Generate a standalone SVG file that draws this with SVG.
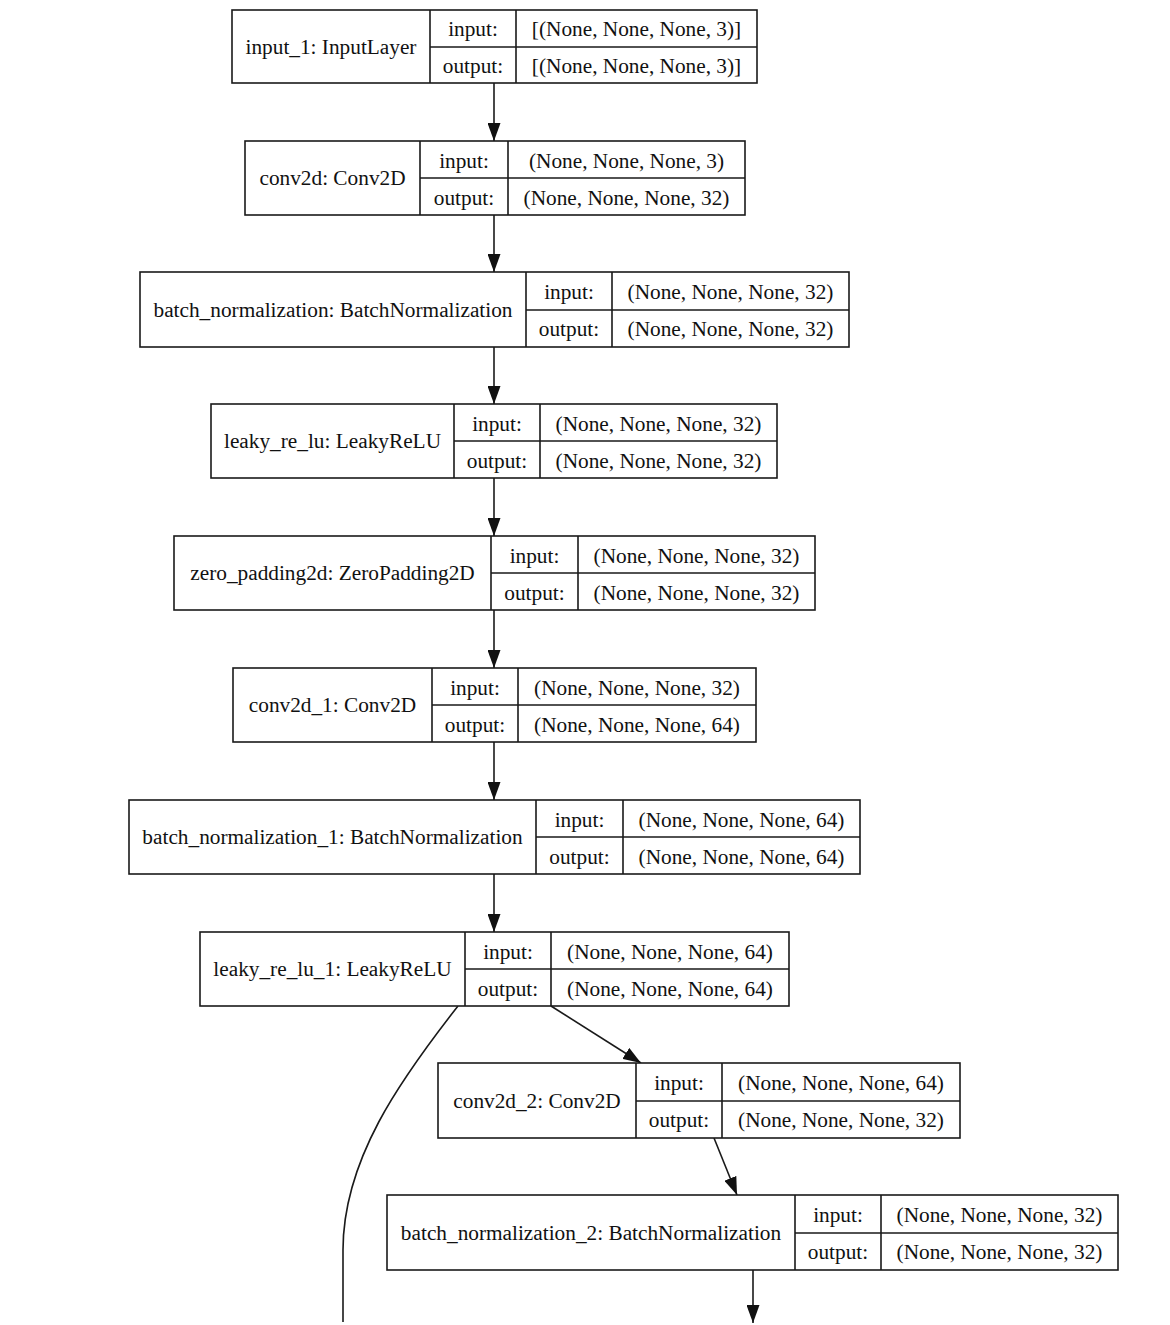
<svg xmlns="http://www.w3.org/2000/svg" width="1170" height="1325" viewBox="0 0 1170 1325">
<defs>
<style>
.box{fill:#fff;stroke:#1a1a1a;stroke-width:1.6}
.ln{stroke:#1a1a1a;stroke-width:1.6;fill:none}
text{font-family:"Liberation Serif","Times New Roman",serif;font-size:21.3px;fill:#111;text-anchor:middle}
</style>
<marker id="ah" viewBox="0 0 18 13" refX="18" refY="6.5" markerWidth="18" markerHeight="13" markerUnits="userSpaceOnUse" orient="auto">
<path d="M0,0 L18,6.5 L0,13 Z" fill="#111"/>
</marker>
</defs>
<rect width="1170" height="1325" fill="#fff"/>

<g id="connectors">
<line class="ln" x1="494" y1="83" x2="494" y2="141" marker-end="url(#ah)"/>
<line class="ln" x1="494" y1="215" x2="494" y2="272" marker-end="url(#ah)"/>
<line class="ln" x1="494" y1="347" x2="494" y2="404" marker-end="url(#ah)"/>
<line class="ln" x1="494" y1="478" x2="494" y2="536" marker-end="url(#ah)"/>
<line class="ln" x1="494" y1="610" x2="494" y2="668" marker-end="url(#ah)"/>
<line class="ln" x1="494" y1="742" x2="494" y2="800" marker-end="url(#ah)"/>
<line class="ln" x1="494" y1="874" x2="494" y2="932" marker-end="url(#ah)"/>
<line class="ln" x1="551" y1="1006" x2="641" y2="1063" marker-end="url(#ah)"/>
<line class="ln" x1="714" y1="1138" x2="737" y2="1195" marker-end="url(#ah)"/>
<line class="ln" x1="753" y1="1270" x2="753" y2="1323" marker-end="url(#ah)"/>
<path class="ln" d="M458,1006 C400,1080 343,1160 343,1250 L343,1322"/>
</g>

<g id="input_1">
<rect class="box" x="232" y="10" width="525" height="73"/>
<path class="ln" d="M430,10 V83 M516,10 V83 M430,47 H757"/>
<text x="331" y="54">input_1: InputLayer</text>
<text x="473" y="36">input:</text>
<text x="473" y="73">output:</text>
<text x="636.5" y="36">[(None, None, None, 3)]</text>
<text x="636.5" y="73">[(None, None, None, 3)]</text>
</g>

<g id="conv2d">
<rect class="box" x="245" y="141" width="500" height="74"/>
<path class="ln" d="M420,141 V215 M508,141 V215 M420,178 H745"/>
<text x="332.5" y="185">conv2d: Conv2D</text>
<text x="464" y="168">input:</text>
<text x="464" y="205">output:</text>
<text x="626.5" y="168">(None, None, None, 3)</text>
<text x="626.5" y="205">(None, None, None, 32)</text>
</g>

<g id="batch_normalization">
<rect class="box" x="140" y="272" width="709" height="75"/>
<path class="ln" d="M526,272 V347 M612,272 V347 M526,310 H849"/>
<text x="333" y="317">batch_normalization: BatchNormalization</text>
<text x="569" y="299">input:</text>
<text x="569" y="336">output:</text>
<text x="730.5" y="299">(None, None, None, 32)</text>
<text x="730.5" y="336">(None, None, None, 32)</text>
</g>

<g id="leaky_re_lu">
<rect class="box" x="211" y="404" width="566" height="74"/>
<path class="ln" d="M454,404 V478 M540,404 V478 M454,441 H777"/>
<text x="332.5" y="448">leaky_re_lu: LeakyReLU</text>
<text x="497" y="431">input:</text>
<text x="497" y="468">output:</text>
<text x="658.5" y="431">(None, None, None, 32)</text>
<text x="658.5" y="468">(None, None, None, 32)</text>
</g>

<g id="zero_padding2d">
<rect class="box" x="174" y="536" width="641" height="74"/>
<path class="ln" d="M491,536 V610 M578,536 V610 M491,573 H815"/>
<text x="332.5" y="580">zero_padding2d: ZeroPadding2D</text>
<text x="534.5" y="563">input:</text>
<text x="534.5" y="600">output:</text>
<text x="696.5" y="563">(None, None, None, 32)</text>
<text x="696.5" y="600">(None, None, None, 32)</text>
</g>

<g id="conv2d_1">
<rect class="box" x="233" y="668" width="523" height="74"/>
<path class="ln" d="M432,668 V742 M518,668 V742 M432,705 H756"/>
<text x="332.5" y="712">conv2d_1: Conv2D</text>
<text x="475" y="695">input:</text>
<text x="475" y="732">output:</text>
<text x="637" y="695">(None, None, None, 32)</text>
<text x="637" y="732">(None, None, None, 64)</text>
</g>

<g id="batch_normalization_1">
<rect class="box" x="129" y="800" width="731" height="74"/>
<path class="ln" d="M536,800 V874 M623,800 V874 M536,837 H860"/>
<text x="332.5" y="844">batch_normalization_1: BatchNormalization</text>
<text x="579.5" y="827">input:</text>
<text x="579.5" y="864">output:</text>
<text x="741.5" y="827">(None, None, None, 64)</text>
<text x="741.5" y="864">(None, None, None, 64)</text>
</g>

<g id="leaky_re_lu_1">
<rect class="box" x="200" y="932" width="589" height="74"/>
<path class="ln" d="M465,932 V1006 M551,932 V1006 M465,969 H789"/>
<text x="332.5" y="976">leaky_re_lu_1: LeakyReLU</text>
<text x="508" y="959">input:</text>
<text x="508" y="996">output:</text>
<text x="670" y="959">(None, None, None, 64)</text>
<text x="670" y="996">(None, None, None, 64)</text>
</g>

<g id="conv2d_2">
<rect class="box" x="438" y="1063" width="522" height="75"/>
<path class="ln" d="M636,1063 V1138 M722,1063 V1138 M636,1101 H960"/>
<text x="537" y="1108">conv2d_2: Conv2D</text>
<text x="679" y="1090">input:</text>
<text x="679" y="1127">output:</text>
<text x="841" y="1090">(None, None, None, 64)</text>
<text x="841" y="1127">(None, None, None, 32)</text>
</g>

<g id="batch_normalization_2">
<rect class="box" x="387" y="1195" width="731" height="75"/>
<path class="ln" d="M795,1195 V1270 M881,1195 V1270 M795,1233 H1118"/>
<text x="591" y="1240">batch_normalization_2: BatchNormalization</text>
<text x="838" y="1222">input:</text>
<text x="838" y="1259">output:</text>
<text x="999.5" y="1222">(None, None, None, 32)</text>
<text x="999.5" y="1259">(None, None, None, 32)</text>
</g>
</svg>
